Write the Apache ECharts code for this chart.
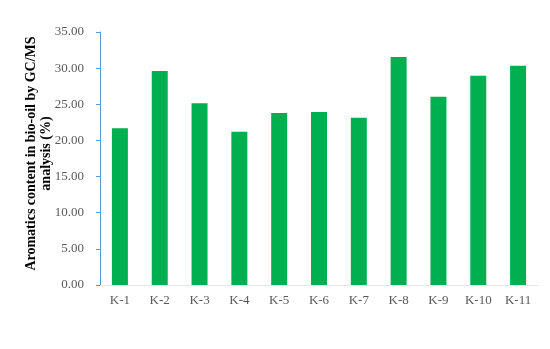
<!DOCTYPE html>
<html>
<head>
<meta charset="utf-8">
<script src="https://cdn.jsdelivr.net/npm/echarts@6/dist/echarts.min.js"></script>
<style>html,body{margin:0;padding:0;background:#fff;}#c{width:550px;height:349px;}</style>
</head>
<body>
<div id="c"></div>
<script>
var categories = ['K-1','K-2','K-3','K-4','K-5','K-6','K-7','K-8','K-9','K-10','K-11'];
var values = [21.68, 29.6, 25.13, 21.2, 23.8, 23.93, 23.14, 31.54, 26.05, 28.95, 30.34];
var yTicks = [0, 5, 10, 15, 20, 25, 30, 35];
var yTitle = 'Aromatics content in bio-oil by GC/MS\nanalysis (%)';

var chart = echarts.init(document.getElementById('c'), null, {renderer: 'canvas'});
chart.setOption({
  animation: false,
  backgroundColor: '#ffffff',
  grid: {left: 100, right: 12, top: 32, bottom: 64},
  xAxis: {
    type: 'category',
    data: categories,
    axisLine: {show: true, lineStyle: {color: '#e6e6e6', width: 1}},
    axisTick: {show: false},
    axisLabel: {color: '#595959', fontFamily: 'Liberation Serif', fontSize: 13, margin: 9}
  },
  yAxis: {
    type: 'value',
    min: yTicks[0],
    max: yTicks[yTicks.length - 1],
    interval: 5,
    name: yTitle,
    nameLocation: 'middle',
    nameGap: 46,
    nameMoveOverlap: false,
    nameTextStyle: {color: '#000', fontFamily: 'Liberation Serif', fontWeight: 'bold', fontSize: 14, lineHeight: 15, padding: [0, 0, 0, 10]},
    splitLine: {show: false},
    axisLine: {show: true, lineStyle: {color: '#5B9BD5', width: 1}},
    axisTick: {show: true, inside: false, length: 4, lineStyle: {color: '#5B9BD5'}},
    axisLabel: {color: '#595959', fontFamily: 'Liberation Serif', fontSize: 13, margin: 16,
      formatter: function (v) { return v.toFixed(2); }}
  },
  series: [{
    type: 'bar',
    data: values,
    barWidth: 16,
    itemStyle: {color: '#00B050'}
  }]
});
</script>
</body>
</html>
